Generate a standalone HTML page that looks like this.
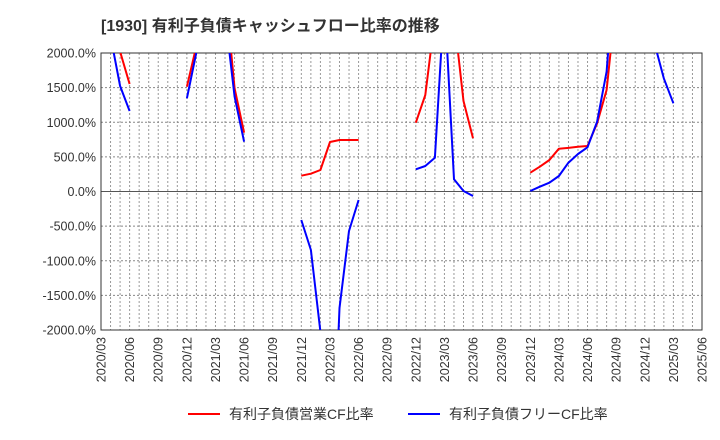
<!DOCTYPE html>
<html><head><meta charset="utf-8"><style>
html,body{margin:0;padding:0;background:#fff;width:720px;height:440px;overflow:hidden;font-family:"Liberation Sans","Noto Sans CJK JP",sans-serif;}
svg{display:block;}
</style></head><body>
<svg id="chart" width="720" height="440" xmlns="http://www.w3.org/2000/svg" font-family="Liberation Sans, Noto Sans CJK JP, sans-serif">
<text x="101" y="31" font-size="16" font-weight="bold" fill="#333">[1930]  有利子負債キャッシュフロー比率の推移</text>
<defs><clipPath id="clip"><rect x="101" y="53" width="601" height="277"/></clipPath></defs>
<g id="grid"></g><g id="axes"></g><g id="series" clip-path="url(#clip)"></g>
<g>
<line x1="188" y1="414" x2="220" y2="414" stroke="#f00" stroke-width="2"/>
<text x="229" y="419" font-size="14" fill="#333">有利子負債営業CF比率</text>
<line x1="408" y1="414" x2="440" y2="414" stroke="#00f" stroke-width="2"/>
<text x="449" y="419" font-size="14" fill="#333">有利子負債フリーCF比率</text>
</g>
</svg>
<script>
const yTicks=[2000,1500,1000,500,0,-500,-1000,-1500,-2000];
const xLabels=["2020/03","2020/06","2020/09","2020/12","2021/03","2021/06","2021/09","2021/12","2022/03","2022/06","2022/09","2022/12","2023/03","2023/06","2023/09","2023/12","2024/03","2024/06","2024/09","2024/12","2025/03","2025/06"];
const N=null;
const redValues=[N,N,2020,1552,N,N,N,N,N,1513,2103,3000,3000,2940,1490,849,N,N,N,N,N,228,257,310,715,744,744,744,N,N,N,N,N,994,1393,2505,3000,2527,1307,768,N,N,N,N,N,272,358,455,618,630,645,657,985,1466,2770,N,N,N,N,N,N,N,N,N];
const blueValues=[N,2245,1523,1162,N,N,N,N,N,1346,2010,3000,3000,2560,1369,719,N,N,N,N,N,-412,-845,-2023,-5000,-1682,-570,-123,N,N,N,N,N,320,368,488,2800,176,7,-65,N,N,N,N,N,7,70,127,224,416,541,638,1008,1730,3500,3500,3500,3500,2150,1635,1274,N,N,N];
const L=101,R=702,T=53,B=330,NM=63;
const X=i=>L+(R-L)*i/NM;
const Y=v=>T+(B-T)*(2000-v)/4000;
const ns="http://www.w3.org/2000/svg";
function mk(tag,attrs,parent){const e=document.createElementNS(ns,tag);for(const k in attrs)e.setAttribute(k,attrs[k]);parent.appendChild(e);return e;}
const grid=document.getElementById('grid'),axes=document.getElementById('axes'),ser=document.getElementById('series');
for(let i=1;i<NM;i++){const l=mk('line',{x1:X(i),x2:X(i),y1:T,y2:B,stroke:'#999','stroke-dasharray':'2,2','stroke-width':1},grid);

}
yTicks.forEach(v=>{const l=mk('line',{x1:L,x2:R,y1:Y(v),y2:Y(v),stroke:v===0?'#555':'#888','stroke-dasharray':v===0?'':'2,2','stroke-width':1},grid);


const t=mk('text',{x:96,y:Y(v)+4.5,'text-anchor':'end','font-size':12.5,fill:'#333'},axes);
t.textContent=v.toFixed(1)+'%';

});
xLabels.forEach((s,k)=>{const x=X(k*3);const t=mk('text',{x:0,y:0,transform:`translate(${x+4.5},337) rotate(-90)`,'text-anchor':'end','font-size':12.5,fill:'#333'},axes);
t.textContent=s;

});
const fr=mk('rect',{x:L,y:T,width:R-L,height:B-T,fill:'none',stroke:'#333','stroke-width':1},axes);


function draw(vals,color,name){let d='',pen=false;vals.forEach((v,i)=>{if(v===null){pen=false;return;}d+=(pen?'L':'M')+X(i).toFixed(1)+','+Y(v).toFixed(1);pen=true;});
const p=mk('path',{d:d,fill:'none',stroke:color,'stroke-width':2,'stroke-linejoin':'round'},ser);

}
draw(redValues,'#f00','operating-cf-ratio-line');
draw(blueValues,'#00f','free-cf-ratio-line');
</script>
</body></html>
